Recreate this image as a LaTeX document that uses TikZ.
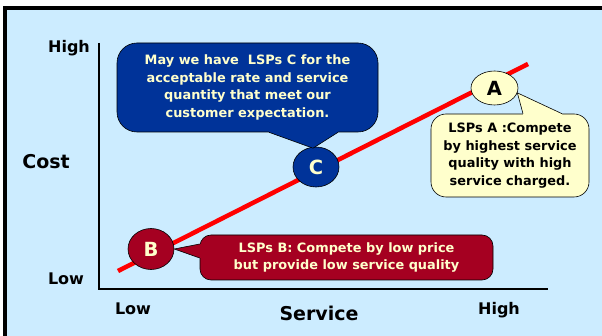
\documentclass[tikz,border=0pt]{standalone}
\usepackage{fontspec}
\setmainfont{DejaVu Sans}
\usetikzlibrary{calc,shapes.geometric}
\definecolor{bgblue}{RGB}{204,236,255}
\definecolor{navy}{RGB}{0,51,153}
\definecolor{wine}{RGB}{165,0,33}
\definecolor{cream}{RGB}{255,255,204}
\begin{document}
\begin{tikzpicture}[x=1pt,y=-1pt,
  axislbl/.style={font=\fontsize{16}{18}\selectfont\bfseries, inner sep=0, anchor=base},
  axistitle/.style={font=\fontsize{19}{22}\selectfont\bfseries, inner sep=0, anchor=base},
  bubble/.style={draw=black, line width=0.6, align=center, inner sep=0,
    font=\fontsize{12.9}{17.5}\selectfont\bfseries},
  dot/.style={ellipse, draw=black, line width=0.6, inner sep=0,
    font=\fontsize{19.5}{21}\selectfont\bfseries},
  edge/.style={draw=black, line width=0.6}]
\useasboundingbox (0,0) rectangle (602,336);
% frame
\draw[line width=3.5, fill=bgblue] (5,8) rectangle (615,350);
% axes
\coordinate (ytop) at (99,43);
\coordinate (O) at (99,289);
\coordinate (xend) at (548,289);
\draw[line width=1.8] (ytop) -- (O) -- (xend);
\node[axislbl] (yhigh) at (69,53) {High};
\node[axislbl] (ylow) at (66,285) {Low};
\node[axistitle] (cost) at (46,169) {Cost};
\node[axislbl] (xlow) at (133,315) {Low};
\node[axistitle] (service) at (319,320) {Service};
\node[axislbl] (xhigh) at (499,315) {High};
% red line
\coordinate (l1) at (118,271);
\coordinate (l2) at (528,64);
\draw[red, line width=4.5] (l1) -- (l2);
% callout boxes
\node[bubble, fill=navy, text=cream, minimum width=261, minimum height=89, rounded corners=20]
  (cbox) at (247.5,87.5) {May we have\ \ LSPs C for the\\acceptable rate and service\\quantity that meet our\\customer expectation.};
\node[bubble, fill=cream, text=black, minimum width=158, minimum height=83, rounded corners=15]
  (abox) at (510,155.5) {LSPs A :Compete\\by highest service\\quality with high\\service charged.};
\node[bubble, fill=wine, text=cream, minimum width=293, minimum height=45, rounded corners=11]
  (bbox) at (346.5,257.5) {LSPs B: Compete by low price\\but provide low service quality};
% circles
\node[dot, fill=cream, text=black, minimum width=47, minimum height=34] (A) at (494.5,88) {A};
\node[dot, fill=wine, text=cream, minimum width=46, minimum height=41] (B) at (151,249) {B};
\node[dot, fill=navy, text=cream, minimum width=46, minimum height=40] (C) at (316,167) {C};
% pointers
\coordinate (ct) at ($(C.north)+(-3,1.5)$);
\fill[navy] ($(cbox.south)+(21.5,-2)$) -- ($(cbox.south)+(21.5,0)$) -- (ct) -- ($(cbox.south)+(90.5,0)$) -- ($(cbox.south)+(90.5,-2)$) -- cycle;
\draw[edge] ($(cbox.south)+(21.5,0)$) -- (ct) -- ($(cbox.south)+(90.5,0)$);
\coordinate (at) at (A.-12);
\fill[cream] ($(abox.north)+(13,2)$) -- ($(abox.north)+(13,0)$) -- (at) -- ($(abox.north)+(52,0)$) -- ($(abox.north)+(52,2)$) -- cycle;
\draw[edge] ($(abox.north)+(13,0)$) -- (at) -- ($(abox.north)+(52,0)$);
\coordinate (bt) at (B.east);
\fill[wine] ($(bbox.west)+(2,-13.5)$) -- ($(bbox.west)+(0,-13.5)$) -- (bt) -- ($(bbox.west)+(0,0.5)$) -- ($(bbox.west)+(2,0.5)$) -- cycle;
\draw[edge] ($(bbox.west)+(0,-13.5)$) -- (bt) -- ($(bbox.west)+(0,0.5)$);
\end{tikzpicture}
\end{document}
